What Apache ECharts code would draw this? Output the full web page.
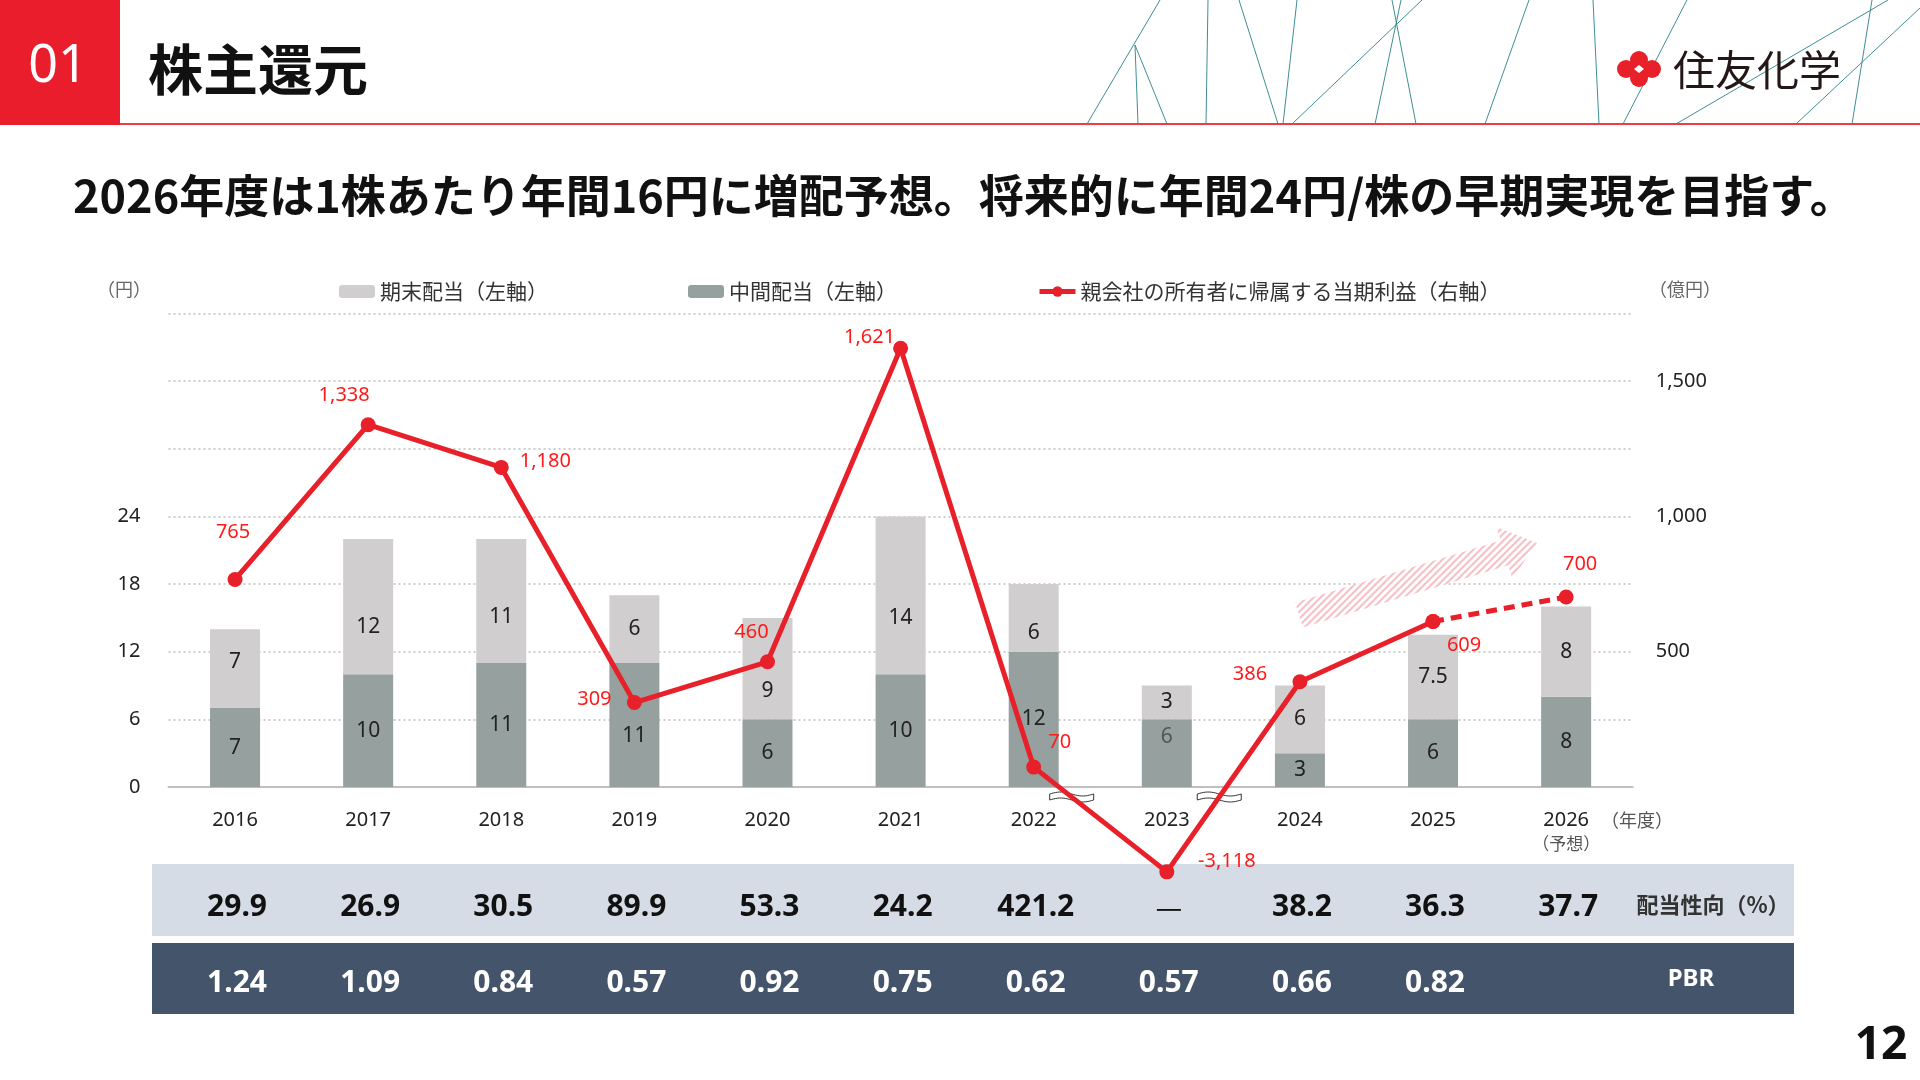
<!DOCTYPE html>
<html><head><meta charset="utf-8">
<script src="https://cdn.jsdelivr.net/npm/echarts@6/dist/echarts.min.js"></script>
<style>html,body{margin:0;padding:0;background:#fff}#c{width:1920px;height:1080px}</style>
</head><body><div id="c"></div><script>
// ---- data ----
const years = ['2016','2017','2018','2019','2020','2021','2022','2023','2024','2025','2026'];
const interimDividend = [7, 10, 11, 11, 6, 10, 12, 6, 3, 6, 8];
const yearEndDividend = [7, 12, 11, 6, 9, 14, 6, 3, 6, 7.5, 8];
const netIncome = [765, 1338, 1180, 309, 460, 1621, 70, -3118, 386, 609, 700];
const forecastIndex = 10;
const payoutRatio = ['29.9','26.9','30.5','89.9','53.3','24.2','421.2','—','38.2','36.3','37.7'];
const pbr = ['1.24','1.09','0.84','0.57','0.92','0.75','0.62','0.57','0.66','0.82',''];
const leftTicks = [0, 6, 12, 18, 24];
const rightTicks = [0, 500, 1000, 1500];

// ---- styling ----
const JP = '"Noto Sans CJK JP", sans-serif';
const NUM = '"Noto Sans", "Noto Sans CJK JP", sans-serif';
const RED = '#E8202A';
const LRED = '#FF1A1A';
const labelOffsets = [[-2,-47],[-24,-29],[44,-6],[-40,-3],[-16,-30],[-31,-11],[26,-25],[60,-11],[-50,-7],[31,24],[14,-33]];
const interimLabelShift = [0,0,0,11,0,0,0,-16,0,0,0];
const yearEndLabelShift = [-7,20,16,0,22,23,15,0,0,0,0];

const chart = echarts.init(document.getElementById('c'));

const gridPos = {left: 168.5, right: 287.3, top: 313.5};
const lineLabel = {
  show: true, position: 'inside', color: LRED, fontSize: 20, fontFamily: NUM,
  formatter: p => Number(p.value).toLocaleString('en-US')
};
const barLabel = {show: true, position: 'inside', color: '#222', fontSize: 21, fontFamily: NUM};

const solidData = netIncome.map((v, i) => i < forecastIndex ? {value: v, label: {offset: labelOffsets[i]}} : '-');
const dashData = netIncome.map((v, i) => i >= forecastIndex - 1 ? {value: v, label: {show: i >= forecastIndex, offset: labelOffsets[i]}} : '-');
const interimData = interimDividend.map((v, i) => ({value: v, label: {offset: [0, interimLabelShift[i]], color: i === 7 ? '#555' : '#222'}}));
const yearEndData = yearEndDividend.map((v, i) => ({value: v, label: {offset: [0, yearEndLabelShift[i]]}}));

chart.setOption({
  animation: false,
  textStyle: {fontFamily: NUM},
  legend: {
    left: 334, top: 276, itemWidth: 36, itemHeight: 13, itemGap: 140,
    textStyle: {fontFamily: JP, fontSize: 21, color: '#333'},
    data: ['期末配当（左軸）', '中間配当（左軸）',
      {name: '親会社の所有者に帰属する当期利益（右軸）', lineStyle: {width: 5}}]
  },
  grid: [
    Object.assign({bottom: 1080 - 787, outerBoundsMode: 'none'}, gridPos),
    Object.assign({bottom: 172.5, outerBoundsMode: 'none'}, gridPos)
  ],
  xAxis: [
    {type: 'category', gridIndex: 0, data: years, boundaryGap: true,
     axisLine: {lineStyle: {color: '#BFBFBF', width: 2}}, axisTick: {show: false},
     axisLabel: {interval: 0, margin: 21, color: '#222', fontSize: 20, fontFamily: NUM, lineHeight: 24,
       formatter: v => v === years[forecastIndex] ? v + '\n{s|（予想）}' : v,
       rich: {s: {fontSize: 17, color: '#555', fontFamily: JP, lineHeight: 24}}}},
    {type: 'category', gridIndex: 1, data: years, boundaryGap: true, show: false}
  ],
  yAxis: [
    {type: 'value', gridIndex: 0, min: 0, max: 42, interval: 6,
     axisLine: {show: false}, axisTick: {show: false},
     axisLabel: {margin: 28, color: '#222', fontSize: 20, fontFamily: NUM,
       formatter: v => leftTicks.includes(v) ? String(v) : ''},
     splitLine: {lineStyle: {color: '#CDCDCD', width: 2, type: [2, 3]}}},
    {type: 'value', gridIndex: 1, position: 'right', min: -3250, max: 1750, interval: 250,
     breaks: [{start: -3000, end: -60, gap: 140}],
     breakArea: {show: false},
     axisLine: {show: false}, axisTick: {show: false}, splitLine: {show: false},
     axisLabel: {margin: 23, color: '#222', fontSize: 20, fontFamily: NUM,
       formatter: v => rightTicks.includes(v) ? v.toLocaleString('en-US') : ''}}
  ],
  series: [
    {name: '中間配当（左軸）', type: 'bar', stack: 'div', xAxisIndex: 0, yAxisIndex: 0,
     barWidth: 50, itemStyle: {color: '#95A09F'}, data: interimData, label: barLabel},
    {name: '期末配当（左軸）', type: 'bar', stack: 'div', xAxisIndex: 0, yAxisIndex: 0,
     barWidth: 50, itemStyle: {color: '#D0CECF'}, data: yearEndData, label: barLabel},
    {name: '親会社の所有者に帰属する当期利益（右軸）', type: 'line', xAxisIndex: 1, yAxisIndex: 1,
     symbol: 'circle', symbolSize: 15, itemStyle: {color: RED}, lineStyle: {color: RED, width: 5},
     label: lineLabel, data: solidData, z: 5},
    {name: '親会社の所有者に帰属する当期利益（右軸）', type: 'line', xAxisIndex: 1, yAxisIndex: 1,
     symbol: 'circle', symbolSize: 15, itemStyle: {color: RED}, lineStyle: {color: RED, width: 5, type: [11, 7]},
     label: lineLabel, data: dashData, z: 5}
  ]
});

// ---- graphics (header, decoration, table) ----
const g = [];
const T = (x, y, text, st) => g.push({type: 'text', x, y, z: 10, style: Object.assign({text, align: 'center', verticalAlign: 'middle', textAlign: 'center', textVerticalAlign: 'middle'}, st)});

// header
g.push({type: 'rect', shape: {x: 0, y: 0, width: 120, height: 125}, style: {fill: '#EA1D2C'}, z: 10});
g.push({type: 'line', shape: {x1: 120, y1: 124, x2: 1920, y2: 124}, style: {stroke: '#EE3B47', lineWidth: 2}, z: 9});
T(58, 67, '01', {fontSize: 52, fontFamily: NUM, fill: '#fff'});
T(148, 69, '株主還元', {fontSize: 55, fontWeight: 'bold', fontFamily: JP, fill: '#111', align: 'left', textAlign: 'left'});
T(73, 196, '2026年度は1株あたり年間16円に増配予想。将来的に年間24円/株の早期実現を目指す。', {fontSize: 45, fontWeight: 'bold', fontFamily: JP, fill: '#111', align: 'left', textAlign: 'left'});

const deco = [[1160,0,1087,124],[1135,45,1138,124],[1135,45,1167,124],[1208,0,1206,124],[1239,0,1278,124],
  [1297,0,1283,124],[1422,0,1292,124],[1392,0,1416,124],[1401,0,1375,124],[1529,0,1485,124],[1593,0,1599,124],
  [1687,0,1623,124],[1872,0,1852,124],[1888,0,1676,124],[1920,8,1796,124]];
deco.forEach(d => g.push({type: 'line', shape: {x1: d[0], y1: d[1], x2: d[2], y2: d[3]}, style: {stroke: '#3E8E95', lineWidth: 1}, z: 8}));

// logo
[[1639,60,9],[1639,78,9],[1626,69,9],[1652,69,9]].forEach(c => g.push({type: 'circle', shape: {cx: c[0], cy: c[1], r: c[2]}, style: {fill: '#E8202A'}, z: 11}));
g.push({type: 'polygon', shape: {points: [[1639,55],[1653,69],[1639,83],[1625,69]]}, style: {fill: '#E8202A'}, z: 11});
g.push({type: 'polygon', shape: {points: [[1639,65],[1644,69],[1639,73],[1634,69]]}, style: {fill: '#fff'}, z: 12});
T(1673, 70, '住友化学', {fontSize: 42, fontFamily: JP, fill: '#231815', align: 'left', textAlign: 'left'});

// axis units
T(124, 289, '（円）', {fontSize: 18, fontFamily: JP, fill: '#666'});
T(1685, 289, '（億円）', {fontSize: 18, fontFamily: JP, fill: '#666'});
T(1637, 820, '（年度）', {fontSize: 18, fontFamily: JP, fill: '#555'});

// hatched arrow
const pc = document.createElement('canvas'); pc.width = 7; pc.height = 7;
const cx = pc.getContext('2d'); cx.fillStyle = '#fff'; cx.fillRect(0, 0, 7, 7);
cx.strokeStyle = '#F6BCC2'; cx.lineWidth = 2.2; cx.beginPath();
cx.moveTo(-1, 8); cx.lineTo(8, -1); cx.moveTo(-4, 4); cx.lineTo(4, -4); cx.moveTo(3, 11); cx.lineTo(11, 3); cx.stroke();
(function () {
  const Tl = [1299, 615], P = [1537, 543];
  const L = Math.hypot(P[0]-Tl[0], P[1]-Tl[1]);
  const u = [(P[0]-Tl[0])/L, (P[1]-Tl[1])/L], n = [-u[1], u[0]];
  const H = [P[0]-u[0]*34, P[1]-u[1]*34];
  const pt = (b, k) => [b[0]+n[0]*k, b[1]+n[1]*k];
  g.push({type: 'polygon', z: 1, shape: {points: [pt(Tl,13), pt(Tl,-13), pt(H,-13), pt(H,-27), P, pt(H,27), pt(H,13)]},
    style: {fill: {image: pc, repeat: 'repeat'}, opacity: 0.9}});
})();

// axis break markers on the line
const p6 = chart.convertToPixel({seriesIndex: 2}, [6, netIncome[6]]);
const p7 = chart.convertToPixel({seriesIndex: 2}, [7, netIncome[7]]);
const p8 = chart.convertToPixel({seriesIndex: 2}, [8, netIncome[8]]);
const y0 = chart.convertToPixel({yAxisIndex: 1}, 0) + 11;
const cross = (a, b) => a[0] + (y0 - a[1]) / (b[1] - a[1]) * (b[0] - a[0]);
[cross(p6, p7), cross(p7, p8)].forEach(x => {
  const top = [], bot = [];
  for (let t = 0; t <= 44; t += 2) {
    const w = -2 * Math.sin(2 * Math.PI * t / 44);
    top.push([x - 22 + t, y0 - 3 + w]);
    bot.unshift([x - 22 + t, y0 + 3 + w]);
  }
  g.push({type: 'polygon', z: 1, shape: {points: top.concat(bot)}, style: {fill: '#fff', stroke: '#333', lineWidth: 1}});
});

// table
g.push({type: 'rect', z: 0, shape: {x: 152, y: 864, width: 1642, height: 72}, style: {fill: '#D6DCE5'}});
g.push({type: 'rect', z: 0, shape: {x: 152, y: 943, width: 1642, height: 71}, style: {fill: '#44546A'}});
years.forEach((y, i) => {
  const x = chart.convertToPixel({xAxisIndex: 0}, y) + 2;
  const dash = payoutRatio[i] === '—';
  T(x, 907, payoutRatio[i], {fontSize: 30, fontWeight: dash ? 'normal' : 'bold', fontFamily: dash ? JP : NUM, fill: '#111'});
  if (pbr[i]) T(x, 983, pbr[i], {fontSize: 30, fontWeight: 'bold', fontFamily: NUM, fill: '#fff'});
});
T(1713, 905, '配当性向（%）', {fontSize: 22, fontWeight: 'bold', fontFamily: JP, fill: '#333'});
T(1691, 979, 'PBR', {fontSize: 24, fontWeight: 'bold', fontFamily: NUM, fill: '#fff'});

// page number
T(1881, 1046, '12', {fontSize: 46, fontWeight: 'bold', fontFamily: NUM, fill: '#111'});

chart.setOption({graphic: {elements: g}});
</script></body></html>
